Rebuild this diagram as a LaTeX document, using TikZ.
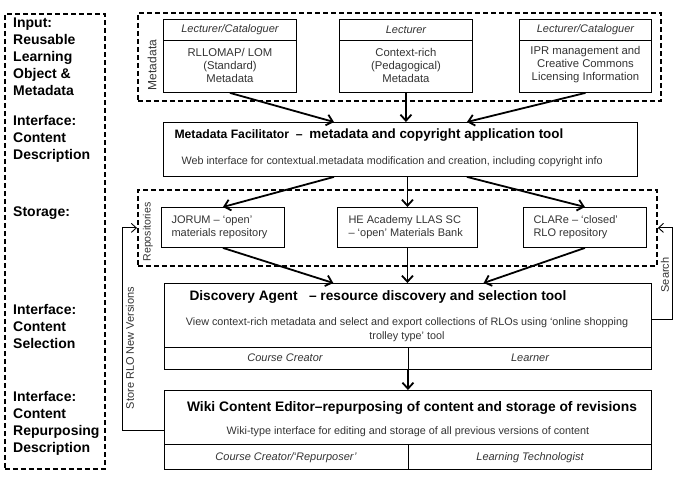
\documentclass[tikz,border=0pt]{standalone}
\usepackage{fontspec}
\setmainfont{Liberation Sans}
\usetikzlibrary{arrows.meta,calc}

\tikzset{
  panel/.style={draw, line width=1.8pt, dash pattern=on 5pt off 3pt, anchor=north west, inner sep=0pt},
  box/.style={draw, line width=0.9pt, anchor=north west, inner sep=0pt},
  role/.style={font=\fontsize{11}{13}\selectfont\itshape, text=black!80},
  body/.style={font=\fontsize{11.3}{13}\selectfont, align=center, text=black!80},
  repo/.style={font=\fontsize{11}{13}\selectfont, align=left, anchor=west, text=black!80},
  note/.style={font=\fontsize{10.8}{14}\selectfont, align=center, text=black!80},
  flow/.style={-{Straight Barb[length=6pt,width=11pt]}, line width=1.8pt},
  feed/.style={-{Straight Barb[length=5pt,width=9pt]}, line width=0.9pt},
  stage/.style={font=\fontsize{14}{17}\selectfont\bfseries, align=left, anchor=north west, inner sep=0pt},
  side/.style={font=\fontsize{11}{13}\selectfont, rotate=90, text=black!80},
}

\begin{document}
\begin{tikzpicture}[x=1pt,y=-1pt]
\useasboundingbox (0,0) rectangle (678,488);

% stages on the left
\node[panel, minimum width=100pt, minimum height=455pt] (stages) at (4,13) {};
\node[stage] (s1) at (13,18) {Input:\\Reusable\\Learning\\Object \&\\Metadata};
\node[stage] (s2) at (13,115) {Interface:\\Content\\Description};
\node[stage] (s3) at (13,207) {Storage:};
\node[stage] (s4) at (13,304) {Interface:\\Content\\Selection};
\node[stage] (s5) at (13,391) {Interface:\\Content\\Repurposing\\Description};

% metadata
\node[panel, minimum width=523pt, minimum height=88pt] (metapanel) at (137,12) {};
\node[side, font=\fontsize{12}{14}\selectfont] (metalabel) at (152,65) {Metadata};
\node[box, minimum width=133pt, minimum height=73pt] (mA) at (163,19) {};
\node[box, minimum width=133pt, minimum height=73pt] (mB) at (339,19) {};
\node[box, minimum width=132pt, minimum height=73pt] (mC) at (519,19) {};
\foreach \m in {mA,mB,mC}
  \draw[line width=0.9pt] ($(\m.north west)+(0,21)$) -- ($(\m.north east)+(0,21)$);
\node[role] at ($(mA.north)+(0,11)$) {Lecturer/Cataloguer};
\node[role] at ($(mB.north)+(0,11)$) {Lecturer};
\node[role] at ($(mC.north)+(0,11)$) {Lecturer/Cataloguer};
\node[body] at ($(mA.north)+(0,46)$) {RLLOMAP/ LOM\\(Standard)\\Metadata};
\node[body] at ($(mB.north)+(0,46)$) {Context-rich\\(Pedagogical)\\Metadata};
\node[body] at ($(mC.north)+(0,46)$) {IPR management and\\Creative Commons\\Licensing Information};

% facilitator
\node[box, minimum width=474pt, minimum height=54pt] (fac) at (163,122) {};
\node[anchor=west, font=\bfseries] at (171,135) {\fontsize{12.2}{14}\selectfont Metadata Facilitator \ –\ \ \fontsize{13.4}{15}\selectfont metadata and copyright application tool};
\node[note, anchor=west] at (178,162) {Web interface for contextual.metadata modification and creation, including copyright info};

% repositories
\node[panel, minimum width=519pt, minimum height=76pt] (repopanel) at (137,189) {};
\node[side, font=\fontsize{10.6}{13}\selectfont] (repolabel) at (148,232) {Repositories};
\node[box, minimum width=123pt, minimum height=40pt] (jorum) at (161,207) {};
\node[box, minimum width=140pt, minimum height=40pt] (he) at (337,207) {};
\node[box, minimum width=123pt, minimum height=40pt] (clare) at (523,207) {};
\node[repo] at (168,227) {JORUM – ‘open’\\materials repository};
\node[repo] at (345,227) {HE Academy LLAS SC\\– ‘open’ Materials Bank};
\node[repo] at (530,227) {CLARe – ‘closed’\\RLO repository};

% discovery agent
\node[box, minimum width=487pt, minimum height=86pt] (disc) at (164,283) {};
\draw[line width=0.9pt] ($(disc.north west)+(0,64)$) -- ($(disc.north east)+(0,64)$);
\draw[line width=0.9pt] (408,347) -- (disc.south -| 408,0);
\node[anchor=west, font=\fontsize{13.7}{15}\selectfont\bfseries] at (186,297) {Discovery Agent \ \ – resource discovery and selection tool};
\node[note] at (407,330) {View context-rich metadata and select and export collections of RLOs using ‘online shopping\\trolley type’ tool};
\node[role] at (285,358) {Course Creator};
\node[role] at (530,358) {Learner};

% wiki editor
\node[box, minimum width=487pt, minimum height=79pt] (wiki) at (164,390) {};
\draw[line width=0.9pt] ($(wiki.north west)+(0,54)$) -- ($(wiki.north east)+(0,54)$);
\draw[line width=0.9pt] (408,444) -- (wiki.south -| 408,0);
\node[font=\fontsize{13.8}{15}\selectfont\bfseries] at (412,408) {Wiki Content Editor–repurposing of content and storage of revisions};
\node[note] at (408,432) {Wiki-type interface for editing and storage of all previous versions of content};
\node[role] at (286,458) {Course Creator/‘Repurposer’};
\node[role] at (530,458) {Learning Technologist};

% flow
\draw[flow] (mA.south) -- ($(fac.north west)!0.36!(fac.north east)$);
\draw[flow] (mB.south) -- (mB.south |- fac.north);
\draw[flow] (mC.south) -- ($(fac.north west)!0.64!(fac.north east)$);
\draw[flow] ($(fac.south west)!0.36!(fac.south east)$) -- (jorum.north);
\draw[flow] (he.north |- fac.south) -- (he.north);
\draw[flow] ($(fac.south west)!0.64!(fac.south east)$) -- (clare.north);
\draw[flow] (jorum.south) -- ($(disc.north west)!0.347!(disc.north east)$);
\draw[flow] (he.south) -- (he.south |- disc.north);
\draw[flow] (clare.south) -- ($(disc.north west)!0.655!(disc.north east)$);
\draw[flow] (disc.south) -- (disc.south |- wiki.north);

% feedback
\draw[feed] (wiki.west) -- ++(-42,0) |- (repopanel.west);
\node[side] (storelabel) at (130,348) {Store RLO New Versions};
\draw[feed] ($(disc.north east)+(0,36)$) -- ++(21,0) |- (repopanel.east);
\node[side] (searchlabel) at (665,275) {Search};
\end{tikzpicture}
\end{document}
